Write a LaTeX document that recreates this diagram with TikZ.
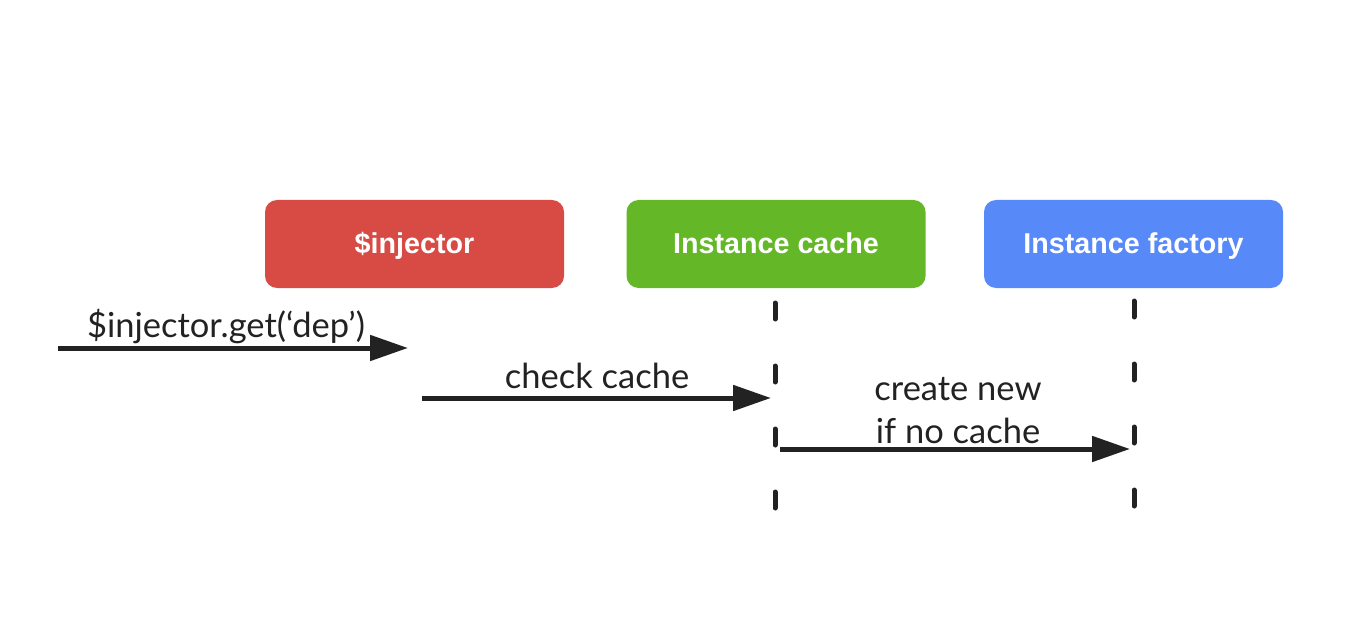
\documentclass[tikz,border=0pt]{standalone}
\usepackage{fontspec}
\setmainfont{Lato}
\newfontfamily\boxfont{Liberation Sans}
\usetikzlibrary{arrows.meta}
\definecolor{cred}{HTML}{D84B44}
\definecolor{cgreen}{HTML}{64B828}
\definecolor{cblue}{HTML}{5789F9}
\definecolor{ink}{HTML}{222222}
\tikzset{
  actor/.style={rounded corners=12pt, minimum width=299pt, minimum height=88pt,
    inner sep=0pt, text height=27pt, text depth=7pt, text=white,
    font=\boxfont\bfseries\fontsize{28.7}{32}\selectfont},
  msg/.style={draw=ink, line width=5pt, -{Triangle[length=38pt,width=25pt]}},
  lifeline/.style={draw=ink, line width=5pt, line cap=round, dash pattern=on 16pt off 47pt},
  lbl/.style={text=ink, inner sep=0pt, font=\fontsize{34.5}{43}\selectfont, align=center}
}
\begin{document}
\begin{tikzpicture}[x=1pt,y=-1pt]
\useasboundingbox (0,0) rectangle (1351,644);
\node[actor, fill=cred] (inj) at (414.5,244) {\$injector};
\node[actor, fill=cgreen] (cache) at (776,244) {Instance cache};
\node[actor, fill=cblue] (fact) at (1133.5,244) {Instance factory};
% lifelines
\coordinate (cacheTop) at (775,303);
\coordinate (cacheBot) at (775,512);
\coordinate (factTop) at (1134,301);
\coordinate (factBot) at (1134,510);
\draw[lifeline] (cacheTop) -- (cacheBot);
\draw[lifeline] (factTop) -- (factBot);
% messages
\coordinate (m1s) at (58,348);
\coordinate (m1e) at (408,348);
\coordinate (m2s) at (422,398);
\coordinate (m2e) at (771,398);
\coordinate (m3s) at (780,449);
\coordinate (m3e) at (1130,449);
\draw[msg] (m1s) -- (m1e);
\draw[msg] (m2s) -- (m2e);
\draw[msg] (m3s) -- (m3e);
\node[lbl, anchor=base] (l1) at (226,337) {\$injector.get(‘dep’)};
\node[lbl, anchor=base] (l2) at (597,388) {check cache};
\node[lbl, anchor=base] (l3) at (958,443) {create new\\if no cache};
\end{tikzpicture}
\end{document}
